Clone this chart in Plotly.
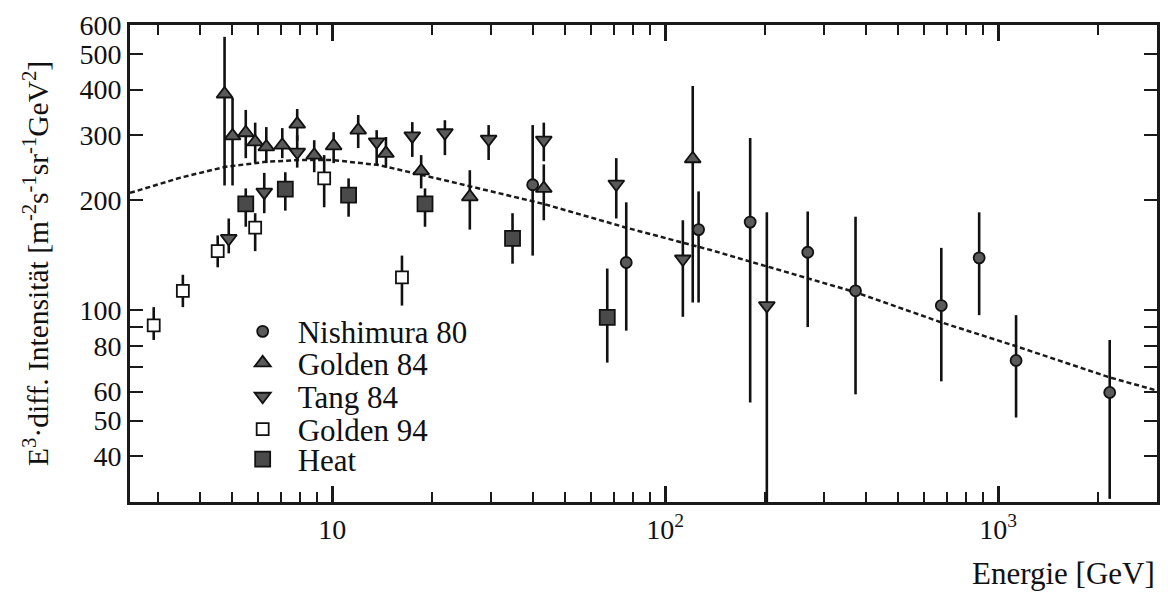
import numpy as np
import plotly.graph_objects as go

# ---------------- data ----------------
nish_E = [40.0, 76.4, 126, 180, 268, 373, 675, 877, 1132, 2163]
nish_I = [220, 135, 166, 174, 144, 113, 103, 139, 73, 59.7]
nish_hi = [320, 197, 211, 295, 186, 180, 148, 185, 97, 83]
nish_lo = [141, 88, 105, 56, 90, 59, 64, 97, 51, 30.6]

g84_E = [4.75, 5.02, 5.50, 5.87, 6.34, 7.08, 7.85, 8.83, 10.1, 11.97, 14.5, 18.5, 25.9, 43.2, 121]
g84_I = [389, 299, 305, 288, 279, 282, 322, 265, 281, 310, 268, 240, 204, 215, 259]
g84_hi = [557, 380, 352, 325, 316, 314, 354, 291, 306, 341, 297, 265, 241, 250, 409]
g84_lo = [219, 219, 260, 252, 252, 260, 290, 238, 252, 277, 245, 215, 166, 176, 105]

tang_E = [4.89, 6.25, 7.85, 13.6, 17.4, 21.8, 29.5, 43.2, 71.3, 113, 202]
tang_I = [157, 210, 270, 288, 299, 305, 293, 291, 221, 138, 103]
tang_hi = [178, 237, 300, 310, 326, 330, 320, 325, 260, 176, 185]
tang_lo = [143, 184, 245, 249, 262, 265, 257, 255, 178, 96, 30]

g94_E = [2.91, 3.56, 4.53, 5.87, 9.46, 16.2]
g94_I = [91, 113, 145, 168, 229, 123]
g94_hi = [102, 125, 160, 184, 265, 141]
g94_lo = [83, 102, 131, 145, 191, 103]

heat_E = [5.50, 7.23, 11.2, 19.0, 34.8, 67]
heat_I = [195, 214, 206, 195, 157, 95.7]
heat_hi = [215, 238, 229, 215, 184, 130]
heat_lo = [169, 187, 180, 169, 134, 72]

curve_E = [2.47, 3.5, 4.75, 6.3, 8, 10, 13.8, 21.9, 43.2, 76.4, 137, 268, 373, 675, 1132, 2163, 3000]
curve_I = [209, 230, 246, 254, 257, 257, 249, 226, 195, 168, 146, 122, 112, 92.7, 79.8, 65.6, 60.4]

x_major = [10, 100, 1000]
x_major_text = ["10", "10<sup>2</sup>", "10<sup>3</sup>"]
x_minor = [3, 4, 5, 6, 7, 8, 9, 20, 30, 40, 50, 60, 70, 80, 90,
           200, 300, 400, 500, 600, 700, 800, 900, 2000]
y_ticks = [40, 50, 60, 80, 100, 200, 300, 400, 500, 600]
y_text = ["40", "50", "60", "80", "100", "200", "300", "400", "500", "600"]
y_minor = [70, 90]

FONT = "Liberation Serif"
AX = "#1a1a1a"

fig = go.Figure()

fig.add_trace(go.Scatter(x=curve_E, y=curve_I, mode="lines",
                         line=dict(color="#1a1a1a", width=2.5, dash="5px,3px"),
                         showlegend=False, hoverinfo="skip"))


def add(name, E, I, hi, lo, symbol, size, fill, legend):
    I_a = np.array(I, float)
    fig.add_trace(go.Scatter(
        x=E, y=I, mode="markers", name=name, legend=legend,
        marker=dict(symbol=symbol, size=size, color=fill,
                    line=dict(color="#111111", width=1.8)),
        error_y=dict(type="data", symmetric=False,
                     array=list(np.array(hi, float) - I_a),
                     arrayminus=list(I_a - np.array(lo, float)),
                     color="#111111", thickness=2.6, width=0),
    ))


add("Nishimura 80", nish_E, nish_I, nish_hi, nish_lo, "circle", 11, "#5a5a5a", "legend")
add("Golden 84", g84_E, g84_I, g84_hi, g84_lo, "triangle-up", 14, "#5a5a5a", "legend2")
add("Tang 84", tang_E, tang_I, tang_hi, tang_lo, "triangle-down", 14, "#5a5a5a", "legend3")
add("Golden 94", g94_E, g94_I, g94_hi, g94_lo, "square", 12, "white", "legend4")
add("Heat", heat_E, heat_I, heat_hi, heat_lo, "square", 15, "#4a4a4a", "legend5")

# legend rows (pixel centres 332, 363, 397, 430, 460 of a plot spanning y 25..502)
rows = [0.357, 0.291, 0.221, 0.152, 0.089]
leg_common = dict(x=0.0951, xanchor="left", yanchor="middle",
                  bgcolor="rgba(0,0,0,0)", font=dict(size=31, family=FONT),
                  itemsizing="trace", itemwidth=60)
legends = {}
for i, yv in enumerate(rows):
    key = "legend" if i == 0 else f"legend{i + 1}"
    legends[key] = dict(leg_common, y=yv)

fig.update_layout(
    width=1168, height=592,
    margin=dict(l=130, r=8, t=25, b=90),
    paper_bgcolor="white", plot_bgcolor="white",
    font=dict(family=FONT, size=28, color="#111111"),
    **legends,
    xaxis=dict(type="log", range=[np.log10(2.47), np.log10(3000)],
               tickvals=x_major, ticktext=x_major_text,
               ticks="inside", ticklen=16, tickwidth=2.5, tickcolor=AX,
               minor=dict(tickvals=x_minor, ticks="inside", ticklen=10,
                          tickwidth=2.2, tickcolor=AX, showgrid=False),
               showline=True, linecolor=AX, linewidth=3, mirror="ticks",
               showgrid=False, zeroline=False,
               tickfont=dict(size=28, family=FONT)),
    yaxis=dict(type="log", range=[np.log10(30), np.log10(600)],
               tickvals=y_ticks, ticktext=y_text,
               ticks="inside", ticklen=13, tickwidth=2.2, tickcolor=AX,
               minor=dict(tickvals=y_minor, ticks="inside", ticklen=13,
                          tickwidth=2.2, tickcolor=AX, showgrid=False),
               showline=True, linecolor=AX, linewidth=3, mirror="ticks",
               showgrid=False, zeroline=False,
               tickfont=dict(size=28, family=FONT)),
    annotations=[
        dict(text="E<sup>3</sup>·diff. Intensität [m<sup>-2</sup>s<sup>-1</sup>sr<sup>-1</sup>GeV<sup>2</sup>]",
             xref="paper", yref="paper", x=-0.092, y=0.5, textangle=-90,
             xanchor="center", yanchor="middle", showarrow=False,
             font=dict(size=29.5, family=FONT)),
        dict(text="Energie [GeV]", xref="paper", yref="paper",
             x=1.0, y=-0.150, xanchor="right", yanchor="middle",
             showarrow=False, font=dict(size=31, family=FONT)),
    ],
)

fig.write_html("out.html")
